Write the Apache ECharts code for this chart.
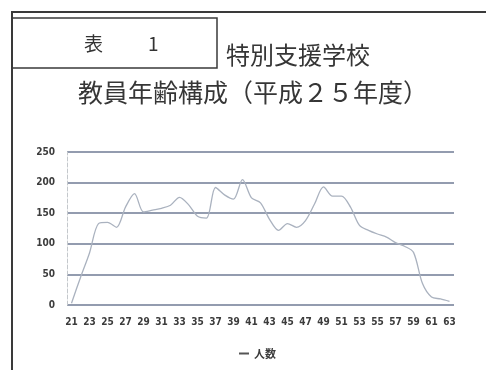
<!DOCTYPE html>
<html>
<head>
<meta charset="utf-8">
<script src="https://cdn.jsdelivr.net/npm/echarts@6/dist/echarts.min.js"></script>
<style>
  html, body { margin: 0; padding: 0; background: #ffffff; }
  #chart { width: 486px; height: 370px; }
</style>
</head>
<body>
<div id="chart"></div>
<script>
// 年齢 21〜63 歳
const ages = [
  21, 22, 23, 24, 25, 26, 27, 28, 29, 30,
  31, 32, 33, 34, 35, 36, 37, 38, 39, 40,
  41, 42, 43, 44, 45, 46, 47, 48, 49, 50,
  51, 52, 53, 54, 55, 56, 57, 58, 59, 60,
  61, 62, 63
];

// 人数（図から読み取った概算値）
const teachers = [
  3, 45, 85, 133, 135, 127, 160, 182, 152, 155,
  158, 163, 176, 164, 145, 142, 192, 180, 173, 205,
  175, 167, 140, 122, 133, 127, 138, 165, 193, 178,
  178, 160, 130, 122, 116, 111, 102, 96, 86, 35,
  13, 10, 6
];

const yTicks = [0, 50, 100, 150, 200, 250];

const titleLine1 = "特別支援学校";
const titleLine2 = "教員年齢構成（平成２５年度）";
const seriesName = "人数";

const chart = echarts.init(document.getElementById("chart"));

chart.setOption({
  backgroundColor: "#ffffff",
  animation: false,
  textStyle: {
    fontFamily: "'Noto Sans CJK JP', sans-serif",
  },
  graphic: [
    // 外枠（上と左）
    {
      type: "polyline",
      shape: { points: [[12, 370], [12, 12], [486, 12]] },
      style: { stroke: "#3a3a3a", lineWidth: 2, fill: null },
    },
    // 「表 1」の枠
    {
      type: "rect",
      shape: { x: 12, y: 18, width: 205, height: 50 },
      style: { stroke: "#3a3a3a", lineWidth: 1.5, fill: "transparent" },
    },
    {
      type: "text",
      left: 84,
      top: 34,
      style: {
        text: "表",
        fontSize: 19,
        fill: "#333",
        fontFamily: "'Noto Sans CJK JP', sans-serif",
      },
    },
    {
      type: "text",
      left: 148,
      top: 34,
      style: {
        text: "1",
        fontSize: 19,
        fill: "#333",
        fontFamily: "'Noto Sans CJK JP', sans-serif",
      },
    },
    {
      type: "text",
      left: 226,
      top: 43,
      style: {
        text: titleLine1,
        fontSize: 24,
        fill: "#363636",
        fontFamily: "'Noto Sans CJK JP', sans-serif",
      },
    },
    {
      type: "text",
      left: 78,
      top: 80,
      style: {
        text: titleLine2,
        fontSize: 25,
        fill: "#363636",
        fontFamily: "'Noto Sans CJK JP', sans-serif",
      },
    },
  ],
  legend: {
    bottom: 6,
    left: 234,
    itemWidth: 10,
    itemHeight: 2,
    itemGap: 4,
    icon: "rect",
    itemStyle: { color: "#555" },
    data: [seriesName],
    textStyle: {
      fontSize: 11,
      fontWeight: "bold",
      color: "#3c3c3c",
      fontFamily: "'Noto Sans CJK JP', sans-serif",
    },
  },
  grid: {
    left: 67,
    right: 32,
    top: 152,
    bottom: 65,
    containLabel: false,
  },
  xAxis: {
    type: "category",
    data: ages,
    boundaryGap: true,
    axisLine: { show: false },
    axisTick: { show: false },
    axisLabel: {
      interval: 1,
      fontSize: 10,
      fontWeight: "bold",
      color: "#3c3c3c",
      margin: 12,
      fontFamily: "'Liberation Sans Narrow', 'DejaVu Sans Condensed', sans-serif",
    },
    splitLine: { show: false },
  },
  yAxis: {
    type: "value",
    min: yTicks[0],
    max: yTicks[yTicks.length - 1],
    interval: 50,
    axisLine: {
      show: true,
      lineStyle: { color: "#c4c8cc", width: 1, type: "dashed" },
    },
    axisTick: { show: false },
    axisLabel: {
      fontSize: 10,
      fontWeight: "bold",
      color: "#3c3c3c",
      margin: 12,
      fontFamily: "'Liberation Sans Narrow', 'DejaVu Sans Condensed', sans-serif",
    },
    splitLine: {
      show: true,
      lineStyle: { color: "#6f7b94", width: 1.5 },
    },
  },
  series: [
    {
      name: seriesName,
      type: "line",
      data: teachers,
      smooth: 0.3,
      showSymbol: false,
      lineStyle: { color: "#aab2bf", width: 1.3 },
      itemStyle: { color: "#aab2bf" },
      z: 3,
    },
  ],
});
</script>
</body>
</html>
